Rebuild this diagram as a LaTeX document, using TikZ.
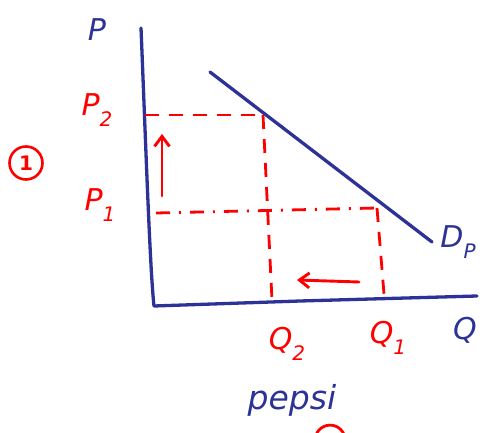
\documentclass[tikz,border=0pt]{standalone}
\usepackage{fontspec}
\setmainfont{DejaVu Sans}
\usetikzlibrary{arrows.meta}
\definecolor{pen}{RGB}{45,50,150}
\definecolor{ink}{RGB}{255,0,0}
\newcommand{\lowsub}[1]{\raisebox{-0.35em}{\fontsize{20}{22}\selectfont #1}}
\begin{document}
\begin{tikzpicture}[x=1pt,y=-1pt,
  axis/.style={pen,line width=3.3pt,line cap=round,line join=round},
  guide/.style={ink,line width=2.8pt,dash pattern=on 14pt off 10pt},
  guidedot/.style={ink,line width=2.8pt,dash pattern=on 14pt off 9pt on 2pt off 9pt},
  move/.style={ink,line width=2.9pt,-{Straight Barb[length=10pt,width=15pt]},line cap=round},
  lab/.style={font=\fontsize{30}{32}\selectfont\itshape,inner sep=0pt},
  bl/.style={lab,text=pen},
  rl/.style={lab,text=ink}]
\useasboundingbox (0,0) rectangle (483,433);
\coordinate (ytop) at (141,28);
\coordinate (orig) at (154,306);
\coordinate (xend) at (477,296);
\coordinate (d1) at (210,72);
\coordinate (d2) at (432,242);
\coordinate (p2a) at (145,115);
\coordinate (e2) at (263,115);
\coordinate (q2b) at (272,300);
\coordinate (p1a) at (156,213);
\coordinate (e1) at (377,208);
\coordinate (q1b) at (384,294);
\coordinate (ua) at (162,196);
\coordinate (ub) at (162,134);
\coordinate (la) at (359,282);
\coordinate (lb) at (297,280);
\draw[axis] (ytop) .. controls (146,150) and (150,270) .. (orig) -- (300,301) -- (xend);
\draw[axis] (d1) -- (d2);
\draw[guide] (p2a) -- (e2);
\draw[guide] (e2) -- (q2b);
\draw[guidedot] (p1a) -- (e1);
\draw[guide] (e1) -- (q1b);
\draw[move] (ua) -- (ub);
\draw[move] (la) -- (lb);
\node[bl] (lp) at (97,30) {P};
\node[rl] (lp2) at (97,110) {P\lowsub{2}};
\node[rl] (lp1) at (100,205) {P\lowsub{1}};
\node[rl] (lq2) at (287,344) {Q\lowsub{2}};
\node[rl] (lq1) at (388,338) {Q\lowsub{1}};
\node[bl] (lq) at (465,330) {Q};
\node[bl] (ld) at (458,242) {D\lowsub{P}};
\node[bl,font=\fontsize{33}{35}\selectfont\itshape] (lpep) at (292,400) {pepsi};
\node[ink,draw,circle,line width=2.6pt,minimum size=33pt,inner sep=0pt,font=\fontsize{20}{22}\selectfont\bfseries] (c1) at (26,163) {1};
\draw[ink,line width=2.8pt] (316,435) arc[start angle=-160,end angle=-20,radius=15];
\end{tikzpicture}
\end{document}
